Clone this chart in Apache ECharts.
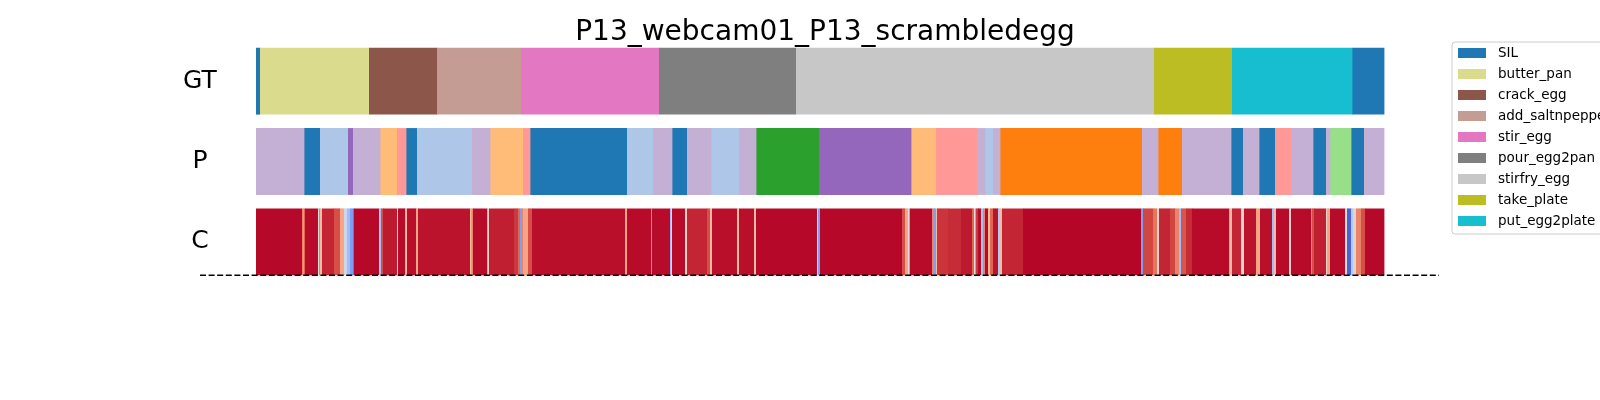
<!DOCTYPE html>
<html><head><meta charset="utf-8">
<script src="https://cdn.jsdelivr.net/npm/echarts@6/dist/echarts.min.js"></script>
<style>html,body{margin:0;padding:0;background:#fff}#c{width:1600px;height:400px}</style>
</head><body><div id="c"></div>
<script>
// ---------------- data ----------------
const chartTitle = 'P13_webcam01_P13_scrambledegg';
const rowLabels = ['C', 'P', 'GT'];
const totalFrames = 1128;
const legendClasses = ['SIL','butter_pan','crack_egg','add_saltnpepper','stir_egg','pour_egg2pan','stirfry_egg','take_plate','put_egg2plate'];
const classColors = {
  SIL: '#1f77b4', butter_pan: '#dbdb8d', crack_egg: '#8c564b', add_saltnpepper: '#c49c94',
  stir_egg: '#e377c2', pour_egg2pan: '#7f7f7f', stirfry_egg: '#c7c7c7', take_plate: '#bcbd22',
  put_egg2plate: '#17becf',
  cls_1: '#aec7e8', cls_2: '#ff7f0e', cls_3: '#ffbb78', cls_4: '#2ca02c', cls_5: '#98df8a',
  cls_7: '#ff9896', cls_8: '#9467bd', cls_9: '#c5b0d5'
};
// [label, startFrame, endFrame]
const gtSegments = [
  ['SIL',0,4],['butter_pan',4,113],['crack_egg',113,181],['add_saltnpepper',181,265],
  ['stir_egg',265,403],['pour_egg2pan',403,540],['stirfry_egg',540,898],['take_plate',898,976],
  ['put_egg2plate',976,1096],['SIL',1096,1128]
];
const predSegments = [
  ['cls_9',0,48],['SIL',48,64],['cls_1',64,92],['cls_8',92,97],['cls_9',97,124],['cls_3',124,141],
  ['cls_7',141,150],['SIL',150,161],['cls_1',161,216],['cls_9',216,234],['cls_3',234,267],['cls_7',267,274],
  ['SIL',274,371],['cls_1',371,397],['cls_9',397,416],['SIL',416,431],['cls_9',431,455],['cls_1',455,483],
  ['cls_9',483,500],['cls_4',500,563],['cls_8',563,655],['cls_3',655,680],['cls_7',680,721],['cls_9',721,729],
  ['cls_1',729,737],['cls_9',737,744],['cls_2',744,886],['cls_9',886,902],['cls_2',902,926],['cls_9',926,975],
  ['SIL',975,987],['cls_9',987,1003],['SIL',1003,1019],['cls_7',1019,1035],['cls_9',1035,1057],['SIL',1057,1070],
  ['cls_9',1070,1074],['cls_5',1074,1095],['SIL',1095,1108],['cls_9',1108,1128]
];
// [startFrame, endFrame, confidence]
const confRuns = [
  [0,46,0.995],[46,47,0.8],[47,48,0.25],[48,49,0.86],[49,62,0.99],[62,63,0.5],[63,64,0.2],[64,66,0.65],
  [66,78,0.955],[78,84,0.9],[84,88,0.72],[88,91,0.45],[91,94,0.3],[94,97,0.2],[97,98,0.1],[98,123,0.995],
  [123,124,0.65],[124,125,0.3],[125,127,0.9],[127,141,0.97],[141,142,0.55],[142,149,0.99],[149,150,0.3],
  [150,151,0.65],[151,160,0.985],[160,162,0.72],[162,214,0.98],[214,215,0.65],[215,216,0.25],[216,217,0.8],
  [217,231,0.99],[231,232,0.3],[232,233,0.55],[233,258,0.965],[258,262,0.93],[262,264,0.86],[264,265,0.2],
  [265,267,0.8],[267,272,0.72],[272,276,0.9],[276,369,0.985],[369,371,0.72],[371,395,0.99],[395,396,0.2],
  [396,414,0.99],[414,415,0.3],[415,416,0.55],[416,429,0.99],[429,431,0.55],[431,451,0.955],[451,454,0.9],
  [454,456,0.65],[456,481,0.985],[481,483,0.65],[483,498,0.985],[498,500,0.65],[500,561,0.995],[561,562,0.5],
  [562,563,0.2],[563,564,0.8],[564,646,0.995],[646,649,0.9],[649,652,0.72],[652,653,0.5],[653,654,0.25],
  [654,676,0.99],[676,678,0.8],[678,680,0.2],[680,681,0.65],[681,692,0.935],[692,705,0.945],[705,716,0.97],
  [716,718,0.86],[718,719,0.5],[719,720,0.25],[720,722,0.93],[722,725,0.99],[725,726,0.65],[726,727,0.3],
  [727,729,0.8],[729,732,0.99],[732,734,0.65],[734,737,0.86],[737,742,0.98],[742,744,0.35],[744,746,0.65],
  [746,767,0.955],[767,885,0.997],[885,887,0.2],[887,897,0.91],[897,901,0.83],[901,903,0.55],[903,914,0.955],
  [914,919,0.91],[919,923,0.8],[923,925,0.3],[925,930,0.89],[930,936,0.945],[936,973,0.99],[973,974,0.3],
  [974,976,0.65],[976,985,0.955],[985,988,0.55],[988,1000,0.98],[1000,1004,0.72],[1004,1016,0.985],
  [1016,1018,0.3],[1018,1020,0.65],[1020,1033,0.99],[1033,1035,0.55],[1035,1055,0.99],[1055,1056,0.2],
  [1056,1058,0.9],[1058,1070,0.965],[1070,1071,0.55],[1071,1072,0.3],[1072,1074,0.72],[1074,1089,0.99],
  [1089,1091,0.5],[1091,1095,0.05],[1095,1097,0.35],[1097,1100,0.55],[1100,1105,0.8],[1105,1109,0.9],
  [1109,1128,0.995]
];
const coolwarm = ['#3b4cc0','#6282ea','#8db0fe','#b8d0f9','#dddcdc','#f5c4ac','#f49a7b','#de604d','#b40426'];

// ---------------- chart ----------------
const FONT = 'DejaVu Sans';
const barFrac = 0.832;
function renderSeg(params, api) {
  const yi = api.value(2);
  const s = api.coord([api.value(0), yi]);
  const e = api.coord([api.value(1), yi]);
  const band = api.size([0, 1])[1];
  const h = band * barFrac;
  return {
    type: 'rect',
    shape: { x: s[0], y: s[1] - h / 2, width: e[0] - s[0] + 0.4, height: h },
    style: { fill: api.visual('color'), stroke: null }
  };
}
const series = [];
Object.keys(classColors).forEach(name => {
  const data = [];
  gtSegments.filter(d => d[0] === name).forEach(d => data.push([d[1], d[2], 'GT']));
  predSegments.filter(d => d[0] === name).forEach(d => data.push([d[1], d[2], 'P']));
  series.push({
    type: 'custom', name: name, renderItem: renderSeg, data: data,
    itemStyle: { color: classColors[name] }, encode: { x: [0, 1], y: 2 }, silent: true
  });
});
const confIndex = series.length;
series.push({
  type: 'custom', name: 'confidence', renderItem: renderSeg,
  data: confRuns.map(d => [d[0], d[1], 'C', d[2]]), encode: { x: [0, 1], y: 2 }, silent: true
});

const chart = echarts.init(document.getElementById('c'), null, { renderer: 'canvas' });
chart.setOption({
  animation: false,
  backgroundColor: '#ffffff',
  title: {
    text: chartTitle, left: 820, top: 14, textAlign: 'center',
    textStyle: { fontFamily: FONT, fontSize: 28, fontWeight: 'normal', color: '#000' }
  },
  grid: { left: 256, right: 216, top: 41, bottom: 118 },
  xAxis: { type: 'value', min: 0, max: totalFrames, show: false },
  yAxis: {
    type: 'category', data: rowLabels,
    axisLine: { show: false }, axisTick: { show: false }, splitLine: { show: false },
    axisLabel: { fontFamily: FONT, fontSize: 25, color: '#000', align: 'center', margin: 56 }
  },
  visualMap: {
    show: false, seriesIndex: confIndex, dimension: 3, min: 0, max: 1,
    inRange: { color: coolwarm }
  },
  legend: {
    data: legendClasses, orient: 'vertical', left: 1452, top: 42,
    icon: 'rect', itemWidth: 28, itemHeight: 10, itemGap: 7,
    padding: [4, 10, 6, 6],
    borderColor: '#cccccc', borderWidth: 1, borderRadius: 3, backgroundColor: '#ffffff',
    textStyle: { fontFamily: FONT, fontSize: 13.5, color: '#000', lineHeight: 14, padding: [0, 0, 0, 7] },
    selectedMode: false
  },
  series: series
});

// dashed baseline under the confidence row
const pC = chart.convertToPixel({ gridIndex: 0 }, [0, 'C']);
const pP = chart.convertToPixel({ gridIndex: 0 }, [0, 'P']);
const pEnd = chart.convertToPixel({ gridIndex: 0 }, [totalFrames, 'C']);
const band = pC[1] - pP[1];
const yLine = pC[1] + band * barFrac / 2;
chart.setOption({
  graphic: [{
    type: 'line', silent: true, z: 10,
    shape: { x1: pC[0] - 56, y1: yLine, x2: pEnd[0] + 55, y2: yLine },
    style: { stroke: '#000', lineWidth: 1.5, lineDash: [6, 2.6] }
  }]
});
</script>
</body></html>
